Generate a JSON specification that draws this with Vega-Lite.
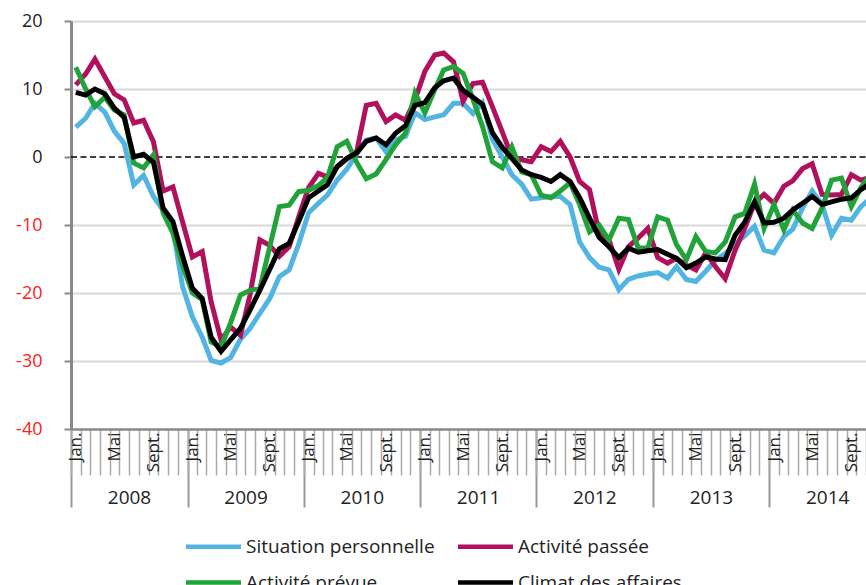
{
  "$schema": "https://vega.github.io/schema/vega-lite/v6.json",
  "width": 795,
  "height": 408,
  "autosize": {"type": "none"},
  "padding": {"left": 71, "top": 21, "right": 0, "bottom": 156},
  "background": "white",
  "config": {"view": {"stroke": null}, "font": "Open Sans"},
  "resolve": {"axis": {"x": "independent"}},
  "layer": [
    {
      "data": {"values": [{}]},
      "mark": {"type": "rule", "strokeDash": [6, 3.5], "strokeWidth": 1.5, "color": "black"},
      "encoding": {
        "y": {"datum": 0, "type": "quantitative", "scale": {"domain": [-40, 20], "nice": false}},
        "x": {
          "datum": {"year": 2008, "month": 1, "date": 1},
          "type": "temporal",
          "scale": {"domain": [{"year": 2008, "month": 1, "date": 1}, {"year": 2014, "month": 11, "date": 1}], "nice": false},
          "axis": {
            "orient": "bottom", "title": null,
            "tickCount": {"interval": "year", "step": 1},
            "labelExpr": "timeFormat(datum.value, '%Y')",
            "labelOffset": 58, "labelPadding": -19, "labelAngle": 0, "labelAlign": "center", "labelBaseline": "top",
            "labelFontSize": 19, "labelColor": "#222222", "labelFont": "Open Sans",
            "tickSize": 78, "tickColor": "#999999", "tickWidth": 2,
            "domain": false, "grid": false, "labelOverlap": false, "labelFlush": false, "labelBound": false
          }
        },
        "x2": {"datum": {"year": 2014, "month": 11, "date": 1}}
      }
    },
    {
      "data": {"values": [
        {"date":"2008-01-16","Situation personnelle":4.4,"Activité passée":10.6,"Activité prévue":13.2,"Climat des affaires":9.5},
        {"date":"2008-02-16","Situation personnelle":5.7,"Activité passée":12.2,"Activité prévue":10.0,"Climat des affaires":9.1},
        {"date":"2008-03-16","Situation personnelle":7.9,"Activité passée":14.4,"Activité prévue":7.4,"Climat des affaires":10.0},
        {"date":"2008-04-16","Situation personnelle":6.6,"Activité passée":11.8,"Activité prévue":8.8,"Climat des affaires":9.3},
        {"date":"2008-05-16","Situation personnelle":3.8,"Activité passée":9.3,"Activité prévue":6.9,"Climat des affaires":7.2},
        {"date":"2008-06-16","Situation personnelle":2.0,"Activité passée":8.4,"Activité prévue":6.2,"Climat des affaires":5.8},
        {"date":"2008-07-16","Situation personnelle":-4.1,"Activité passée":5.0,"Activité prévue":-0.9,"Climat des affaires":0.0},
        {"date":"2008-08-16","Situation personnelle":-2.7,"Activité passée":5.4,"Activité prévue":-1.6,"Climat des affaires":0.4},
        {"date":"2008-09-16","Situation personnelle":-5.8,"Activité passée":2.2,"Activité prévue":0.3,"Climat des affaires":-0.8},
        {"date":"2008-10-16","Situation personnelle":-7.8,"Activité passée":-5.0,"Activité prévue":-8.2,"Climat des affaires":-7.5},
        {"date":"2008-11-16","Situation personnelle":-10.5,"Activité passée":-4.4,"Activité prévue":-11.2,"Climat des affaires":-9.5},
        {"date":"2008-12-16","Situation personnelle":-19.0,"Activité passée":-9.5,"Activité prévue":-15.9,"Climat des affaires":-14.5},
        {"date":"2009-01-16","Situation personnelle":-23.5,"Activité passée":-14.7,"Activité prévue":-20.0,"Climat des affaires":-19.3},
        {"date":"2009-02-16","Situation personnelle":-26.5,"Activité passée":-13.9,"Activité prévue":-21.0,"Climat des affaires":-20.8},
        {"date":"2009-03-16","Situation personnelle":-29.9,"Activité passée":-21.3,"Activité prévue":-27.2,"Climat des affaires":-26.5},
        {"date":"2009-04-16","Situation personnelle":-30.3,"Activité passée":-26.9,"Activité prévue":-27.9,"Climat des affaires":-28.6},
        {"date":"2009-05-16","Situation personnelle":-29.5,"Activité passée":-25.0,"Activité prévue":-24.4,"Climat des affaires":-26.9},
        {"date":"2009-06-16","Situation personnelle":-26.8,"Activité passée":-26.2,"Activité prévue":-20.3,"Climat des affaires":-25.2},
        {"date":"2009-07-16","Situation personnelle":-25.2,"Activité passée":-20.3,"Activité prévue":-19.6,"Climat des affaires":-22.5},
        {"date":"2009-08-16","Situation personnelle":-23.0,"Activité passée":-12.2,"Activité prévue":-19.3,"Climat des affaires":-19.6},
        {"date":"2009-09-16","Situation personnelle":-20.8,"Activité passée":-13.0,"Activité prévue":-13.2,"Climat des affaires":-16.5},
        {"date":"2009-10-16","Situation personnelle":-17.6,"Activité passée":-14.6,"Activité prévue":-7.3,"Climat des affaires":-13.5},
        {"date":"2009-11-16","Situation personnelle":-16.6,"Activité passée":-13.2,"Activité prévue":-7.1,"Climat des affaires":-12.7},
        {"date":"2009-12-16","Situation personnelle":-12.8,"Activité passée":-8.8,"Activité prévue":-5.1,"Climat des affaires":-9.5},
        {"date":"2010-01-16","Situation personnelle":-8.2,"Activité passée":-4.5,"Activité prévue":-4.9,"Climat des affaires":-6.0},
        {"date":"2010-02-16","Situation personnelle":-6.8,"Activité passée":-2.4,"Activité prévue":-4.2,"Climat des affaires":-5.0},
        {"date":"2010-03-16","Situation personnelle":-5.6,"Activité passée":-2.9,"Activité prévue":-3.0,"Climat des affaires":-4.1},
        {"date":"2010-04-16","Situation personnelle":-3.4,"Activité passée":-1.4,"Activité prévue":1.5,"Climat des affaires":-1.4},
        {"date":"2010-05-16","Situation personnelle":-1.8,"Activité passée":-0.3,"Activité prévue":2.3,"Climat des affaires":-0.2},
        {"date":"2010-06-16","Situation personnelle":0.5,"Activité passée":0.8,"Activité prévue":-0.8,"Climat des affaires":0.6},
        {"date":"2010-07-16","Situation personnelle":2.5,"Activité passée":7.6,"Activité prévue":-3.2,"Climat des affaires":2.3},
        {"date":"2010-08-16","Situation personnelle":2.8,"Activité passée":7.9,"Activité prévue":-2.5,"Climat des affaires":2.8},
        {"date":"2010-09-16","Situation personnelle":0.8,"Activité passée":5.2,"Activité prévue":-0.4,"Climat des affaires":1.8},
        {"date":"2010-10-16","Situation personnelle":2.5,"Activité passée":6.2,"Activité prévue":1.8,"Climat des affaires":3.5},
        {"date":"2010-11-16","Situation personnelle":3.0,"Activité passée":5.4,"Activité prévue":3.5,"Climat des affaires":4.6},
        {"date":"2010-12-16","Situation personnelle":6.5,"Activité passée":8.4,"Activité prévue":9.4,"Climat des affaires":7.6},
        {"date":"2011-01-16","Situation personnelle":5.5,"Activité passée":12.6,"Activité prévue":6.5,"Climat des affaires":8.0},
        {"date":"2011-02-16","Situation personnelle":5.9,"Activité passée":15.0,"Activité prévue":9.9,"Climat des affaires":10.2},
        {"date":"2011-03-16","Situation personnelle":6.2,"Activité passée":15.3,"Activité prévue":12.8,"Climat des affaires":11.2},
        {"date":"2011-04-16","Situation personnelle":7.9,"Activité passée":14.0,"Activité prévue":13.3,"Climat des affaires":11.6},
        {"date":"2011-05-16","Situation personnelle":7.9,"Activité passée":8.2,"Activité prévue":12.3,"Climat des affaires":9.8},
        {"date":"2011-06-16","Situation personnelle":6.4,"Activité passée":10.8,"Activité prévue":8.5,"Climat des affaires":8.8},
        {"date":"2011-07-16","Situation personnelle":8.0,"Activité passée":11.0,"Activité prévue":4.5,"Climat des affaires":7.7},
        {"date":"2011-08-16","Situation personnelle":2.6,"Activité passée":7.4,"Activité prévue":-0.7,"Climat des affaires":3.6},
        {"date":"2011-09-16","Situation personnelle":0.0,"Activité passée":3.7,"Activité prévue":-1.6,"Climat des affaires":1.4},
        {"date":"2011-10-16","Situation personnelle":-2.6,"Activité passée":0.0,"Activité prévue":1.5,"Climat des affaires":-0.2},
        {"date":"2011-11-16","Situation personnelle":-4.0,"Activité passée":-0.4,"Activité prévue":-2.2,"Climat des affaires":-1.9},
        {"date":"2011-12-16","Situation personnelle":-6.2,"Activité passée":-0.7,"Activité prévue":-2.6,"Climat des affaires":-2.6},
        {"date":"2012-01-16","Situation personnelle":-6.0,"Activité passée":1.5,"Activité prévue":-5.6,"Climat des affaires":-3.0},
        {"date":"2012-02-16","Situation personnelle":-5.8,"Activité passée":0.8,"Activité prévue":-6.0,"Climat des affaires":-3.6},
        {"date":"2012-03-16","Situation personnelle":-5.8,"Activité passée":2.3,"Activité prévue":-5.0,"Climat des affaires":-2.6},
        {"date":"2012-04-16","Situation personnelle":-7.0,"Activité passée":0.0,"Activité prévue":-3.8,"Climat des affaires":-3.6},
        {"date":"2012-05-16","Situation personnelle":-12.5,"Activité passée":-3.6,"Activité prévue":-7.0,"Climat des affaires":-6.0},
        {"date":"2012-06-16","Situation personnelle":-14.8,"Activité passée":-4.8,"Activité prévue":-11.0,"Climat des affaires":-9.0},
        {"date":"2012-07-16","Situation personnelle":-16.2,"Activité passée":-11.2,"Activité prévue":-10.0,"Climat des affaires":-11.8},
        {"date":"2012-08-16","Situation personnelle":-16.6,"Activité passée":-12.2,"Activité prévue":-12.2,"Climat des affaires":-13.2},
        {"date":"2012-09-16","Situation personnelle":-19.5,"Activité passée":-16.5,"Activité prévue":-9.0,"Climat des affaires":-14.8},
        {"date":"2012-10-16","Situation personnelle":-18.0,"Activité passée":-13.2,"Activité prévue":-9.2,"Climat des affaires":-13.4},
        {"date":"2012-11-16","Situation personnelle":-17.5,"Activité passée":-11.9,"Activité prévue":-13.4,"Climat des affaires":-14.0},
        {"date":"2012-12-16","Situation personnelle":-17.2,"Activité passée":-10.5,"Activité prévue":-13.4,"Climat des affaires":-13.8},
        {"date":"2013-01-16","Situation personnelle":-17.0,"Activité passée":-14.8,"Activité prévue":-8.8,"Climat des affaires":-13.6},
        {"date":"2013-02-16","Situation personnelle":-17.8,"Activité passée":-15.6,"Activité prévue":-9.3,"Climat des affaires":-14.3},
        {"date":"2013-03-16","Situation personnelle":-16.1,"Activité passée":-14.9,"Activité prévue":-12.9,"Climat des affaires":-14.9},
        {"date":"2013-04-16","Situation personnelle":-18.0,"Activité passée":-15.9,"Activité prévue":-15.1,"Climat des affaires":-16.3},
        {"date":"2013-05-16","Situation personnelle":-18.3,"Activité passée":-16.6,"Activité prévue":-11.7,"Climat des affaires":-15.6},
        {"date":"2013-06-16","Situation personnelle":-16.8,"Activité passée":-14.1,"Activité prévue":-13.9,"Climat des affaires":-14.7},
        {"date":"2013-07-16","Situation personnelle":-15.2,"Activité passée":-16.1,"Activité prévue":-14.1,"Climat des affaires":-15.0},
        {"date":"2013-08-16","Situation personnelle":-14.2,"Activité passée":-17.9,"Activité prévue":-12.5,"Climat des affaires":-15.1},
        {"date":"2013-09-16","Situation personnelle":-12.8,"Activité passée":-13.7,"Activité prévue":-8.8,"Climat des affaires":-11.5},
        {"date":"2013-10-16","Situation personnelle":-11.6,"Activité passée":-10.5,"Activité prévue":-8.3,"Climat des affaires":-9.6},
        {"date":"2013-11-16","Situation personnelle":-10.2,"Activité passée":-6.8,"Activité prévue":-4.0,"Climat des affaires":-6.6},
        {"date":"2013-12-16","Situation personnelle":-13.7,"Activité passée":-5.5,"Activité prévue":-10.5,"Climat des affaires":-9.7},
        {"date":"2014-01-16","Situation personnelle":-14.1,"Activité passée":-6.8,"Activité prévue":-7.0,"Climat des affaires":-9.6},
        {"date":"2014-02-16","Situation personnelle":-11.7,"Activité passée":-4.3,"Activité prévue":-10.7,"Climat des affaires":-9.0},
        {"date":"2014-03-16","Situation personnelle":-10.6,"Activité passée":-3.5,"Activité prévue":-7.8,"Climat des affaires":-7.8},
        {"date":"2014-04-16","Situation personnelle":-7.5,"Activité passée":-1.7,"Activité prévue":-9.7,"Climat des affaires":-6.8},
        {"date":"2014-05-16","Situation personnelle":-5.0,"Activité passée":-1.0,"Activité prévue":-10.5,"Climat des affaires":-5.8},
        {"date":"2014-06-16","Situation personnelle":-7.0,"Activité passée":-5.5,"Activité prévue":-7.5,"Climat des affaires":-7.0},
        {"date":"2014-07-16","Situation personnelle":-11.5,"Activité passée":-5.6,"Activité prévue":-3.4,"Climat des affaires":-6.6},
        {"date":"2014-08-16","Situation personnelle":-9.0,"Activité passée":-5.5,"Activité prévue":-3.1,"Climat des affaires":-6.2},
        {"date":"2014-09-16","Situation personnelle":-9.3,"Activité passée":-2.6,"Activité prévue":-7.3,"Climat des affaires":-6.0},
        {"date":"2014-10-16","Situation personnelle":-7.3,"Activité passée":-3.4,"Activité prévue":-4.5,"Climat des affaires":-4.8},
        {"date":"2014-11-16","Situation personnelle":-6.0,"Activité passée":-3.0,"Activité prévue":-2.5,"Climat des affaires":-3.8}
      ]},
      "transform": [
        {"fold": ["Situation personnelle", "Activité passée", "Activité prévue", "Climat des affaires"], "as": ["serie", "valeur"]}
      ],
      "mark": {"type": "line", "strokeWidth": 5, "clip": true, "strokeJoin": "miter"},
      "encoding": {
        "x": {
          "field": "date", "type": "temporal",
          "scale": {"domain": [{"year": 2008, "month": 1, "date": 1}, {"year": 2014, "month": 11, "date": 1}], "nice": false},
          "axis": {
            "orient": "bottom", "title": null,
            "tickCount": {"interval": "month", "step": 1},
            "labelExpr": "month(datum.value) == 0 ? 'Jan.' : month(datum.value) == 4 ? 'Mai' : month(datum.value) == 8 ? 'Sept.' : ''",
            "labelAngle": 270, "labelAlign": "right", "labelBaseline": "middle",
            "labelOffset": 4.85, "labelPadding": -43, "labelFontSize": 17, "labelColor": "#222222", "labelFont": "Open Sans",
            "tickSize": 46, "tickColor": "#aaaaaa", "tickWidth": 1.5,
            "domainColor": "#888888", "domainWidth": 2.5,
            "grid": false, "labelOverlap": false, "labelBound": false, "labelFlush": false
          }
        },
        "y": {
          "field": "valeur", "type": "quantitative",
          "scale": {"domain": [-40, 20], "nice": false},
          "axis": {
            "title": null, "values": [-40, -30, -20, -10, 0, 10, 20],
            "labelExpr": "'' + datum.value",
            "grid": true,
            "gridColor": {"condition": {"test": "datum.value === 0 || datum.value === -40", "value": "transparent"}, "value": "#d9d9d9"},
            "gridWidth": 2,
            "domainColor": "#888888", "domainWidth": 3,
            "tickColor": "#888888", "tickSize": 7, "tickWidth": 2,
            "labelFontSize": 18, "labelPadding": 22, "labelFont": "Open Sans",
            "labelColor": {"condition": {"test": "datum.value < 0", "value": "#ff2020"}, "value": "#222222"}
          }
        },
        "color": {
          "field": "serie", "type": "nominal",
          "scale": {
            "domain": ["Situation personnelle", "Activité passée", "Activité prévue", "Climat des affaires"],
            "range": ["#52b4e2", "#b1115c", "#22a33a", "#000000"]
          },
          "legend": {
            "title": null, "orient": "none", "legendX": 117, "legendY": 500,
            "direction": "horizontal", "columns": 2,
            "symbolType": "M-1.2,0H1.2", "symbolSize": 2100, "symbolStrokeWidth": 4.5,
            "labelFontSize": 19, "labelFont": "Open Sans", "labelColor": "#222222",
            "labelOffset": 7, "columnPadding": 14, "rowPadding": 0, "labelLimit": 400
          }
        }
      }
    }
  ]
}
